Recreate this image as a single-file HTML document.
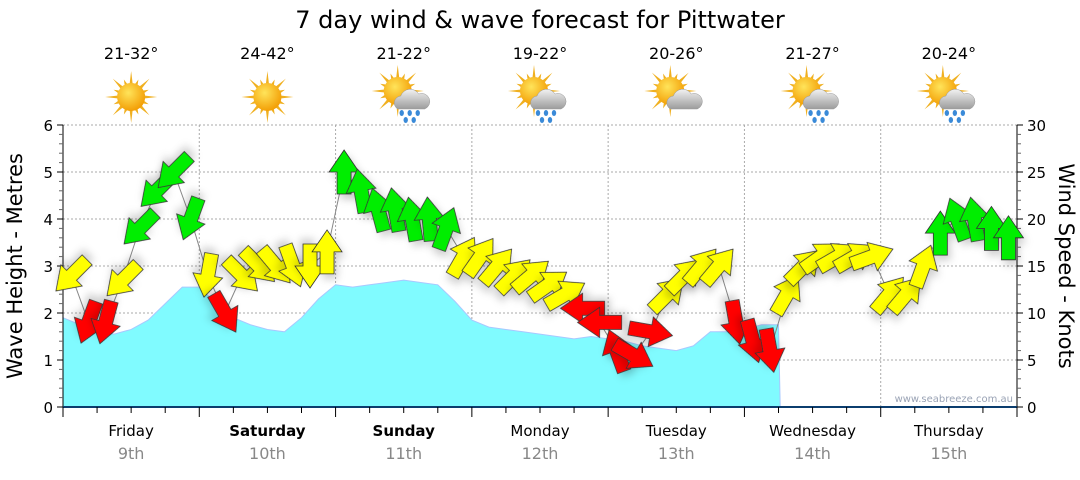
<!DOCTYPE html>
<html><head><meta charset="utf-8"><style>
body{margin:0;background:#fff;width:1080px;height:475px;overflow:hidden;font-family:"Liberation Sans",sans-serif}
svg text{font-family:"DejaVu Sans","Liberation Sans",sans-serif}
</style></head><body>
<svg id="c" width="1080" height="475">
<defs>
<radialGradient id="sun" cx="0.4" cy="0.35" r="0.7"><stop offset="0" stop-color="#ffe45a"/><stop offset="1" stop-color="#f29a00"/></radialGradient>
<linearGradient id="cloud" x1="0" y1="0" x2="0" y2="1"><stop offset="0" stop-color="#f2f2f2"/><stop offset="1" stop-color="#9c9c9c"/></linearGradient>
<filter id="sh" x="-50%" y="-50%" width="200%" height="200%"><feDropShadow dx="3" dy="5" stdDeviation="4" flood-color="#000" flood-opacity="0.18"/></filter>
</defs>
<g id="grid"></g><g id="wave"></g><g id="axes"></g><g id="wind"></g><g id="top"></g>
<text x="540" y="28" text-anchor="middle" font-size="24">7 day wind &amp; wave forecast for Pittwater</text>
<text transform="translate(22,266) rotate(-90)" text-anchor="middle" font-size="21">Wave Height - Metres</text>
<text transform="translate(1059,266) rotate(90)" text-anchor="middle" font-size="21">Wind Speed - Knots</text>
<text x="1013" y="402" text-anchor="end" font-size="10" fill="#9aa3b5">www.seabreeze.com.au</text>
</svg>
<script>
const days=["Friday","Saturday","Sunday","Monday","Tuesday","Wednesday","Thursday"];
const dates=["9th","10th","11th","12th","13th","14th","15th"];
const boldDays=[false,true,true,false,false,false,false];
const temps=["21-32°","24-42°","21-22°","19-22°","20-26°","21-27°","20-24°"];
const icons=["sun","sun","rain","rain","cloud","rain","rain"];
const waveHours=[0,3,6,9,12,15,18,21,24,27,30,33,36,39,42,45,48,51,54,57,60,63,66,69,72,75,78,81,84,87,90,93,96,99,102,105,108,111,114,117,120,123,126,126.3,168];
const waveHeights=[1.9,1.75,1.6,1.55,1.65,1.85,2.2,2.55,2.55,2.2,1.9,1.75,1.65,1.6,1.9,2.3,2.6,2.55,2.6,2.65,2.7,2.65,2.6,2.25,1.85,1.7,1.65,1.6,1.55,1.5,1.45,1.5,1.45,1.4,1.3,1.25,1.2,1.3,1.6,1.6,1.65,1.75,1.75,0,0];
const windSpeeds=[14,9,9,13.5,19,23,25,20,14,10,14,15,15,15,15,16.5,25,23,21,21,20,20,19,16,16,15,14,14,13,12,10.5,9,6,5.5,8,12,14,15,15,9,7,6,12,15,16,16,16,16,12,12,15,18.5,20,20,19,18];
const windDirs=[225,200,195,225,225,225,225,200,190,150,135,135,140,160,180,0,0,350,345,350,350,355,20,30,35,40,45,50,55,60,270,270,340,120,100,45,45,40,40,170,165,170,30,45,55,60,60,70,40,40,20,0,340,350,0,0];
const ns="http://www.w3.org/2000/svg";
const X0=63,X1=1017,Y0=407,YT=125,HOURS=168;
const xh=h=>X0+(X1-X0)*h/HOURS;
const yw=m=>Y0-(Y0-YT)*m/6;
const yk=k=>Y0-(Y0-YT)*k/30;
function mk(t,a,p){const e=document.createElementNS(ns,t);for(const k in a)e.setAttribute(k,a[k]);(p||document.getElementById('c')).appendChild(e);return e;}
const G=id=>document.getElementById(id);
for(let m=1;m<=6;m++){const l=mk('line',{x1:X0,x2:X1,y1:yw(m),y2:yw(m),stroke:'#aaa','stroke-dasharray':'2,2'},G('grid'));

}
for(let d=1;d<7;d++){const l=mk('line',{x1:xh(d*24),x2:xh(d*24),y1:YT,y2:Y0,stroke:'#aaa','stroke-dasharray':'2,2'},G('grid'));

}
let pts=`M${xh(waveHours[0])},${Y0} `;
waveHours.forEach((h,i)=>{pts+=`L${xh(h)},${yw(waveHeights[i])} `;});
pts+=`L${xh(waveHours[waveHours.length-1])},${Y0} Z`;
const wa=mk('path',{d:pts,fill:'#80fbff',stroke:'#a8c8ff','stroke-width':1},G('wave'));


const A=G('axes');
mk('line',{x1:X0,x2:X0,y1:YT,y2:Y0,stroke:'#000'},A);
mk('line',{x1:X1,x2:X1,y1:YT,y2:Y0,stroke:'#000'},A);
mk('line',{x1:X0,x2:X1,y1:Y0,y2:Y0,stroke:'#0b3d6e','stroke-width':2},A);
for(let i=0;i<=30;i++){const m=i/5,y=yw(m),maj=i%5==0;
mk('line',{x1:X0-(maj?6:4),x2:X0,y1:y,y2:y,stroke:maj?'#000':'#666'},A);
if(maj){const t=mk('text',{x:X0-10,y:y+6,'text-anchor':'end','font-size':15},A);t.textContent=m;

}}
for(let k=0;k<=30;k++){const y=yk(k),maj=k%5==0;
mk('line',{x1:X1,x2:X1+(maj?6:4),y1:y,y2:y,stroke:maj?'#000':'#666'},A);
if(maj){const t=mk('text',{x:X1+10,y:y+6,'font-size':15},A);t.textContent=k;

}}
for(let q=0;q<=28;q++){const x=xh(q*6),maj=q%4==0;mk('line',{x1:x,x2:x,y1:Y0,y2:Y0+(maj?10:6),stroke:'#000'},A);}
days.forEach((d,i)=>{const cx=xh(i*24+12);
const t=mk('text',{x:cx,y:436,'text-anchor':'middle','font-size':15,'font-weight':boldDays[i]?'bold':'normal'},A);t.textContent=d;


const t2=mk('text',{x:cx,y:459,'text-anchor':'middle','font-size':16,fill:'#888'},A);t2.textContent=dates[i];


const t3=mk('text',{x:cx,y:59,'text-anchor':'middle','font-size':16},G('top'));t3.textContent=temps[i];


const g=mk('g',{transform:`translate(${cx},97)`},G('top'));


const sx=icons[i]=='sun'?0:-6,sy=icons[i]=='sun'?0:-6;
for(let r=0;r<16;r++){const a=r*Math.PI/8,L=r%2?19:26;
mk('polygon',{points:`${sx+Math.cos(a-0.12)*13},${sy+Math.sin(a-0.12)*13} ${sx+Math.cos(a)*L},${sy+Math.sin(a)*L} ${sx+Math.cos(a+0.12)*13},${sy+Math.sin(a+0.12)*13}`,fill:'#f0b020'},g);}
mk('circle',{cx:sx,cy:sy,r:14,fill:'url(#sun)'},g);
if(icons[i]!='sun'){mk('path',{d:'M-6,12 a7,7 0 0 1 3,-13 a10,10 0 0 1 18,-2 a8,8 0 0 1 6,15 Z',fill:'url(#cloud)',stroke:'#999','stroke-width':0.5},g);
if(icons[i]=='rain'){[[-2,16],[6,16],[14,16],[2,23],[10,23]].forEach(p=>mk('ellipse',{cx:p[0],cy:p[1],rx:2.2,ry:3,fill:'#3a8ad8'},g));}}
});
const W=G('wind');
const windHours=windSpeeds.map((s,i)=>i*3+1.5);
let lp='';windSpeeds.forEach((s,i)=>{lp+=(i?'L':'M')+xh(windHours[i])+','+yk(s)+' ';});
const ln=mk('path',{d:lp,fill:'none',stroke:'#888','stroke-width':1},W);


windSpeeds.forEach((s,i)=>{
const col=s<11?'#ff0000':(s<18?'#ffff00':'#00ee00');
const a=mk('polygon',{points:'-7,22 7,22 7,0 15,0 0,-22 -15,0 -7,0',fill:col,stroke:'#333','stroke-width':0.8,filter:'url(#sh)',
transform:`translate(${xh(windHours[i])},${yk(s)}) rotate(${windDirs[i]})`},W);


});
</script>
</body></html>
